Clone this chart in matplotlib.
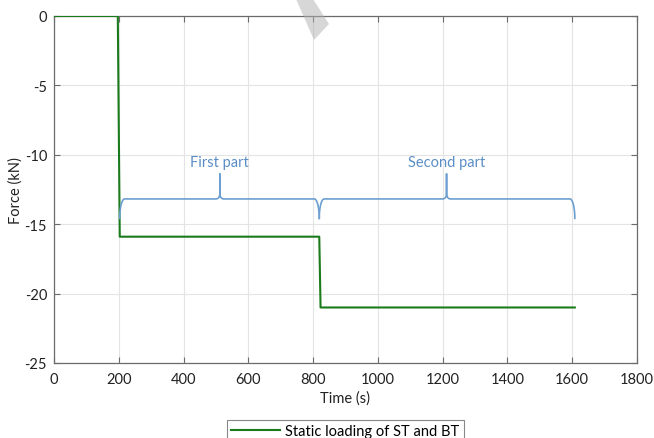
import numpy as np
import matplotlib
matplotlib.use("Agg")
import matplotlib.pyplot as plt
from matplotlib.patches import Polygon

plt.rcParams['font.family'] = ['Lato', 'DejaVu Sans']
plt.rcParams['axes.unicode_minus'] = False

# ---- data ----
time_s = [0, 197, 203, 819, 823, 1608]
force_kN = [0, 0, -15.9, -15.9, -21.0, -21.0]
series_label = "Static loading of ST and BT"

brace_starts = [203, 819]
brace_ends = [819, 1608]
brace_peaks = [512, 1212]
brace_labels = ["First part", "Second part"]
brace_level = -13.18

xticks = [0, 200, 400, 600, 800, 1000, 1200, 1400, 1600, 1800]
yticks = [0, -5, -10, -15, -20, -25]

W, H = 654, 439
fig = plt.figure(figsize=(W / 100, H / 100), dpi=100)
ax = fig.add_axes([54 / W, 1 - 364 / H, (637 - 54) / W, (364 - 17) / H])

green = '#1b7a1b'
line, = ax.plot(time_s, force_kN, color=green, lw=1.5, label=series_label, zorder=3)

ax.set_xlim(0, 1800)
ax.set_ylim(-25, 0)
ax.set_xticks(xticks)
ax.set_yticks(yticks)
ax.grid(True, color='#e4e4e4', lw=0.8)
ax.set_axisbelow(True)
for s in ax.spines.values():
    s.set_color('#6b6b6b')
    s.set_linewidth(0.9)
ax.tick_params(direction='in', length=4, width=0.8, color='#6b6b6b',
               labelsize=10.5, labelcolor='#222222', top=True, right=True)
ax.tick_params(axis='x', pad=6.5)
ax.tick_params(axis='y', pad=5)
ax.set_xlabel('Time (s)', fontsize=10.5, color='#222222', labelpad=3)
ax.set_ylabel('Force (kN)', fontsize=10.5, color='#222222', labelpad=1)

# ---- braces ----
bcol = '#6c9fd0'
tcol = '#5b8ec6'
w_end, d_end = 15, 1.4     # end curl width (s), depth (kN)
w_mid, r_mid, s_mid = 12, 0.35, 1.8


def brace(x0, x1, xm, h):
    th = np.linspace(0, np.pi / 2, 30)
    xs = list(x0 + w_end * (1 - np.cos(th)))
    ys = list((h - d_end) + d_end * np.sin(th))
    xs += list(xm - w_mid + w_mid * np.sin(th))
    ys += list(h + r_mid * (1 - np.cos(th)))
    xs += [xm]
    ys += [h + s_mid]
    xs += list(xm + w_mid - w_mid * np.sin(th[::-1]))
    ys += list(h + r_mid * (1 - np.cos(th[::-1])))
    xs += list(x1 - w_end * (1 - np.cos(th[::-1])))
    ys += list((h - d_end) + d_end * np.sin(th[::-1]))
    return xs, ys


for x0, x1, xm, lab in zip(brace_starts, brace_ends, brace_peaks, brace_labels):
    bx, by = brace(x0, x1, xm, brace_level)
    ax.plot(bx, by, color=bcol, lw=1.2, zorder=4)
    ax.text(xm, brace_level + s_mid + 0.85, lab, ha='center', va='center',
            fontsize=10.5, color=tcol)

# ---- legend ----
leg = fig.legend(handles=[line], loc='upper center',
                 bbox_to_anchor=(345.5 / W, 1 - 421 / H), borderaxespad=0,
                 fontsize=10.5, frameon=True, fancybox=False, edgecolor='#6a6a6a',
                 handlelength=3.3, borderpad=0.3, handletextpad=0.4)
leg.get_frame().set_linewidth(0.8)

# ---- watermark band ----
wm = [(296, 0), (313, 0), (329, 25), (314, 41)]
poly = Polygon([(x / W, 1 - y / H) for x, y in wm], closed=True,
               transform=fig.transFigure, facecolor='#b0b0b0', alpha=0.5,
               edgecolor='none', zorder=10)
fig.add_artist(poly)

fig.savefig('out.png', dpi=100)
